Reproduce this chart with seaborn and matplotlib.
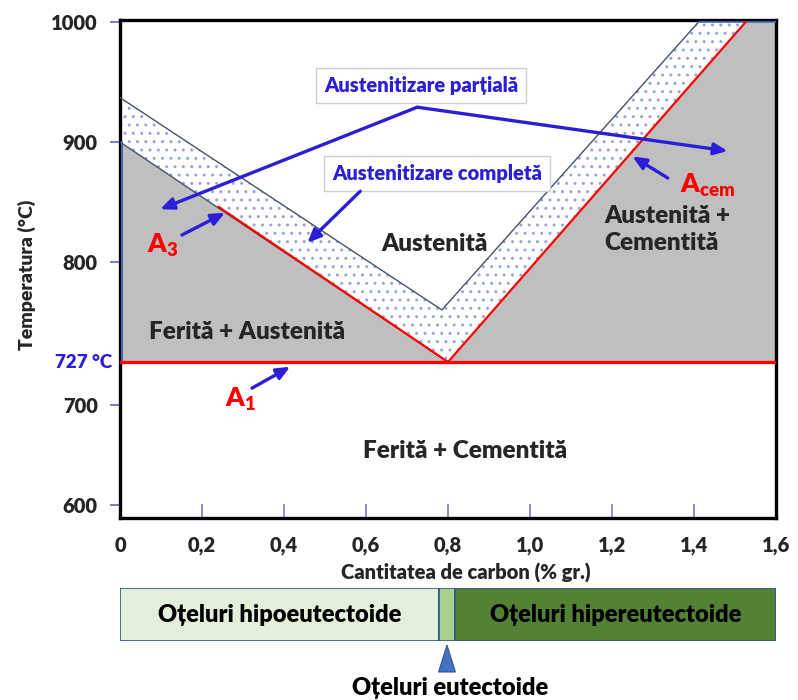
import numpy as np
import pandas as pd
import matplotlib
matplotlib.use("Agg")
import matplotlib.pyplot as plt
from matplotlib.patches import Polygon
from matplotlib.transforms import blended_transform_factory
import seaborn as sns

# ---- phase boundaries of the Fe-Fe3C diagram (carbon % wt, temperature °C) ----
carbon_a3 = [0.0, 0.8]
temp_a3 = [900, 727]
carbon_a3_red = [0.24, 0.8]
temp_a3_red = [846, 727]
carbon_acem = [0.8, 1.526]
temp_acem = [727, 1000]
carbon_a1 = [0.0, 1.6]
temp_a1 = [727, 727]
# upper limit of the partial austenitisation band
carbon_band_top = [0.0, 0.785, 1.411]
temp_band_top = [937, 765, 1000]

x_ticks = [0.0, 0.2, 0.4, 0.6, 0.8, 1.0, 1.2, 1.4, 1.6]
x_tick_labels = ["0", "0,2", "0,4", "0,6", "0,8", "1,0", "1,2", "1,4", "1,6"]
y_ticks = [600, 700, 800, 900, 1000]
y_tick_labels = ["600", "700", "800", "900", "1000"]

# steel classes along the carbon axis
steel_classes = ["Oțeluri hipoeutectoide", "", "Oțeluri hipereutectoide"]
steel_start = [0.0, 0.777, 0.818]
steel_end = [0.777, 0.818, 1.6]
steel_colors = ["#e2f0d9", "#a9d18e", "#548235"]

# schematic (non-uniform) temperature axis
scale_t = np.array([500, 587, 600, 700, 727, 800, 900, 1000, 1002, 1100], dtype=float)
scale_h = np.array([-87, 0, 13, 113, 156, 256, 376, 496, 498.4, 616], dtype=float)


def t_forward(t):
    return np.interp(t, scale_t, scale_h)


def t_inverse(h):
    return np.interp(h, scale_h, scale_t)


sns.set_style("white")
plt.rcParams["font.family"] = ["Lato", "DejaVu Sans"]
plt.rcParams["font.weight"] = "heavy"
plt.rcParams["mathtext.fontset"] = "custom"
plt.rcParams["mathtext.rm"] = "Lato"
plt.rcParams["mathtext.bf"] = "Lato:heavy"
plt.rcParams["hatch.linewidth"] = 1.0

WT = "heavy"
BLUE = "#2a1fd6"
RED = "#ff0000"
SLATE = "#44546a"
GRAY = "#bfbfbf"

W, H = 798, 700
fig = plt.figure(figsize=(W / 100, H / 100), dpi=100)
ax = fig.add_axes([120 / W, (H - 518) / H, 656 / W, (518 - 19.6) / H])
ax.set_yscale("function", functions=(t_forward, t_inverse))
ax.set_xlim(0, 1.6)
ax.set_ylim(587, 1002)

# two-phase regions (grey)
ax.add_patch(Polygon([(carbon_a3[0], temp_a1[0]), (carbon_a3[0], temp_a3[0]),
                      (carbon_a3[1], temp_a3[1])],
                     closed=True, facecolor=GRAY, edgecolor="none", zorder=1))
ax.add_patch(Polygon([(carbon_acem[0], temp_acem[0]), (carbon_acem[1], temp_acem[1]),
                      (carbon_a1[1], temp_acem[1]), (carbon_a1[1], temp_a1[1])],
                     closed=True, facecolor=GRAY, edgecolor="none", zorder=1))

# partial austenitisation band (dotted)
band = [(carbon_a3[0], temp_a3[0]), (carbon_a3[1], temp_a3[1]),
        (carbon_acem[1], temp_acem[1]), (carbon_band_top[2], temp_band_top[2]),
        (carbon_band_top[1], temp_band_top[1]), (carbon_band_top[0], temp_band_top[0])]
ax.add_patch(Polygon(band, closed=True, facecolor="white", edgecolor="#9aa6d8",
                     hatch="..", linewidth=0, zorder=1))

# boundary lines
line_kw = dict(estimator=None, sort=False, legend=False, ax=ax)
sns.lineplot(x=carbon_band_top, y=temp_band_top, color=SLATE, linewidth=1.0, zorder=3, **line_kw)
sns.lineplot(x=carbon_a3, y=temp_a3, color=SLATE, linewidth=1.0, zorder=3, **line_kw)
sns.lineplot(x=carbon_a3_red, y=temp_a3_red, color=RED, linewidth=1.6, zorder=4, **line_kw)
sns.lineplot(x=carbon_acem, y=temp_acem, color=RED, linewidth=1.6, zorder=4, **line_kw)
sns.lineplot(x=carbon_a1, y=temp_a1, color=RED, linewidth=2.4, zorder=5, **line_kw)
sns.lineplot(x=[carbon_band_top[2], carbon_a1[1]], y=[1000, 1000], color="#4472c4",
             linewidth=1.2, zorder=3, **line_kw)
sns.lineplot(x=[0.004, 0.004], y=[temp_a1[0], temp_a3[0]], color="#4a64b0",
             linewidth=1.5, zorder=3, **line_kw)

# axes styling
for sp in ax.spines.values():
    sp.set_visible(True)
    sp.set_color("black")
    sp.set_linewidth(2.4)
ax.set_xticks(x_ticks)
ax.set_xticklabels(x_tick_labels)
ax.set_yticks(y_ticks)
ax.set_yticklabels(y_tick_labels)
ax.yaxis.set_minor_locator(matplotlib.ticker.NullLocator())
ax.xaxis.set_minor_locator(matplotlib.ticker.NullLocator())
ax.tick_params(axis="y", direction="out", length=7, width=1.2, color="#5b6bbf",
               labelsize=14.5, pad=9, left=True)
ax.tick_params(axis="x", direction="in", length=10, width=1.2, color="#7a7ac8",
               labelsize=14.5, pad=13, bottom=True)
for lab in ax.get_xticklabels() + ax.get_yticklabels():
    lab.set_fontweight(WT)
ax.set_xlabel("Cantitatea de carbon (% gr.)", fontsize=14.5, fontweight=WT)
ax.xaxis.set_label_coords((466 - 120) / 656, -(563 - 518) / 498.4)
ax.set_ylabel("Temperatura (°C)", fontsize=14, fontweight=WT)
ax.yaxis.set_label_coords(-(120 - 36) / 656, (518 - 275) / 498.4)

# 727 °C marker label
trans_y = blended_transform_factory(ax.transAxes, ax.transData)
ax.text(-0.012, 727, "727 °C", transform=trans_y, ha="right", va="center",
        color=BLUE, fontsize=13.5, fontweight=WT)

# region labels
RS = 17.5
ax.text(0.767, 815, "Austenită", ha="center", va="center", fontsize=RS, fontweight=WT)
ax.text(1.181, 827, "Austenită +\nCementită", ha="left", va="center", fontsize=RS,
        fontweight=WT, linespacing=1.3)
ax.text(0.31, 749, "Ferită + Austenită", ha="center", va="center", fontsize=RS, fontweight=WT)
ax.text(0.841, 654, "Ferită + Cementită", ha="center", va="center", fontsize=RS, fontweight=WT)

# critical line labels
ax.text(0.066, 808, r"$\mathbf{A_3}$", color=RED, fontsize=19, ha="left", va="baseline")
ax.text(0.256, 698, r"$\mathbf{A_1}$", color=RED, fontsize=19, ha="left", va="baseline")
ax.text(1.365, 858, r"$\mathbf{A_{cem}}$", color=RED, fontsize=19, ha="left", va="baseline")

box_kw = dict(boxstyle="square,pad=0.4", facecolor="white", edgecolor="#d0d0d0", linewidth=1)
ax.text(0.735, 947, "Austenitizare parțială", ha="center", va="center", color=BLUE,
        fontsize=14.5, fontweight=WT, bbox=box_kw, zorder=6)
ax.text(0.773, 874, "Austenitizare completă", ha="center", va="center", color=BLUE,
        fontsize=14.5, fontweight=WT, bbox=box_kw, zorder=6)

arrow_kw = dict(arrowstyle="-|>,head_length=0.8,head_width=0.35", color=BLUE, lw=2.4,
                shrinkA=0, shrinkB=0)
arrows = [
    ((0.725, 929), (0.098, 844)),
    ((0.725, 929), (1.482, 892.5)),
    ((0.586, 859), (0.457, 816)),
    ((0.151, 822.5), (0.256, 841)),
    ((1.336, 870), (1.25, 888)),
    ((0.322, 710.6), (0.415, 724)),
]
for tail, head in arrows:
    ax.annotate("", xy=head, xytext=tail, arrowprops=arrow_kw, zorder=7)

# ---- steel classification strip ----
ax2 = fig.add_axes([120 / W, (H - 641) / H, 656 / W, 53 / H])
ax2.set_xlim(0, 1.6)
ax2.set_ylim(-0.5, 0.5)
widths = [e - s for s, e in zip(steel_start, steel_end)]
ax2.barh([0, 0, 0], widths, left=steel_start, height=1.0, color=steel_colors,
         edgecolor="#2f5597", linewidth=1.2)
for name, s, e in zip(steel_classes, steel_start, steel_end):
    if name:
        ax2.text((s + e) / 2, 0, name, ha="center", va="center", fontsize=17,
                 fontweight=WT, color="black")
ax2.axis("off")

ax3 = fig.add_axes([120 / W, 0, 656 / W, (H - 641) / H])
ax3.set_xlim(0, 1.6)
ax3.set_ylim(H, 641)
ax3.add_patch(Polygon([(0.777, 672), (0.818, 672), (0.7975, 645)], closed=True,
                      facecolor="#4472c4", edgecolor="#2f5597", linewidth=0.8))
ax3.text(0.806, 688, "Oțeluri eutectoide", ha="center", va="center", fontsize=17,
         fontweight=WT, color="black")
ax3.axis("off")

fig.savefig("out.png", dpi=100)
